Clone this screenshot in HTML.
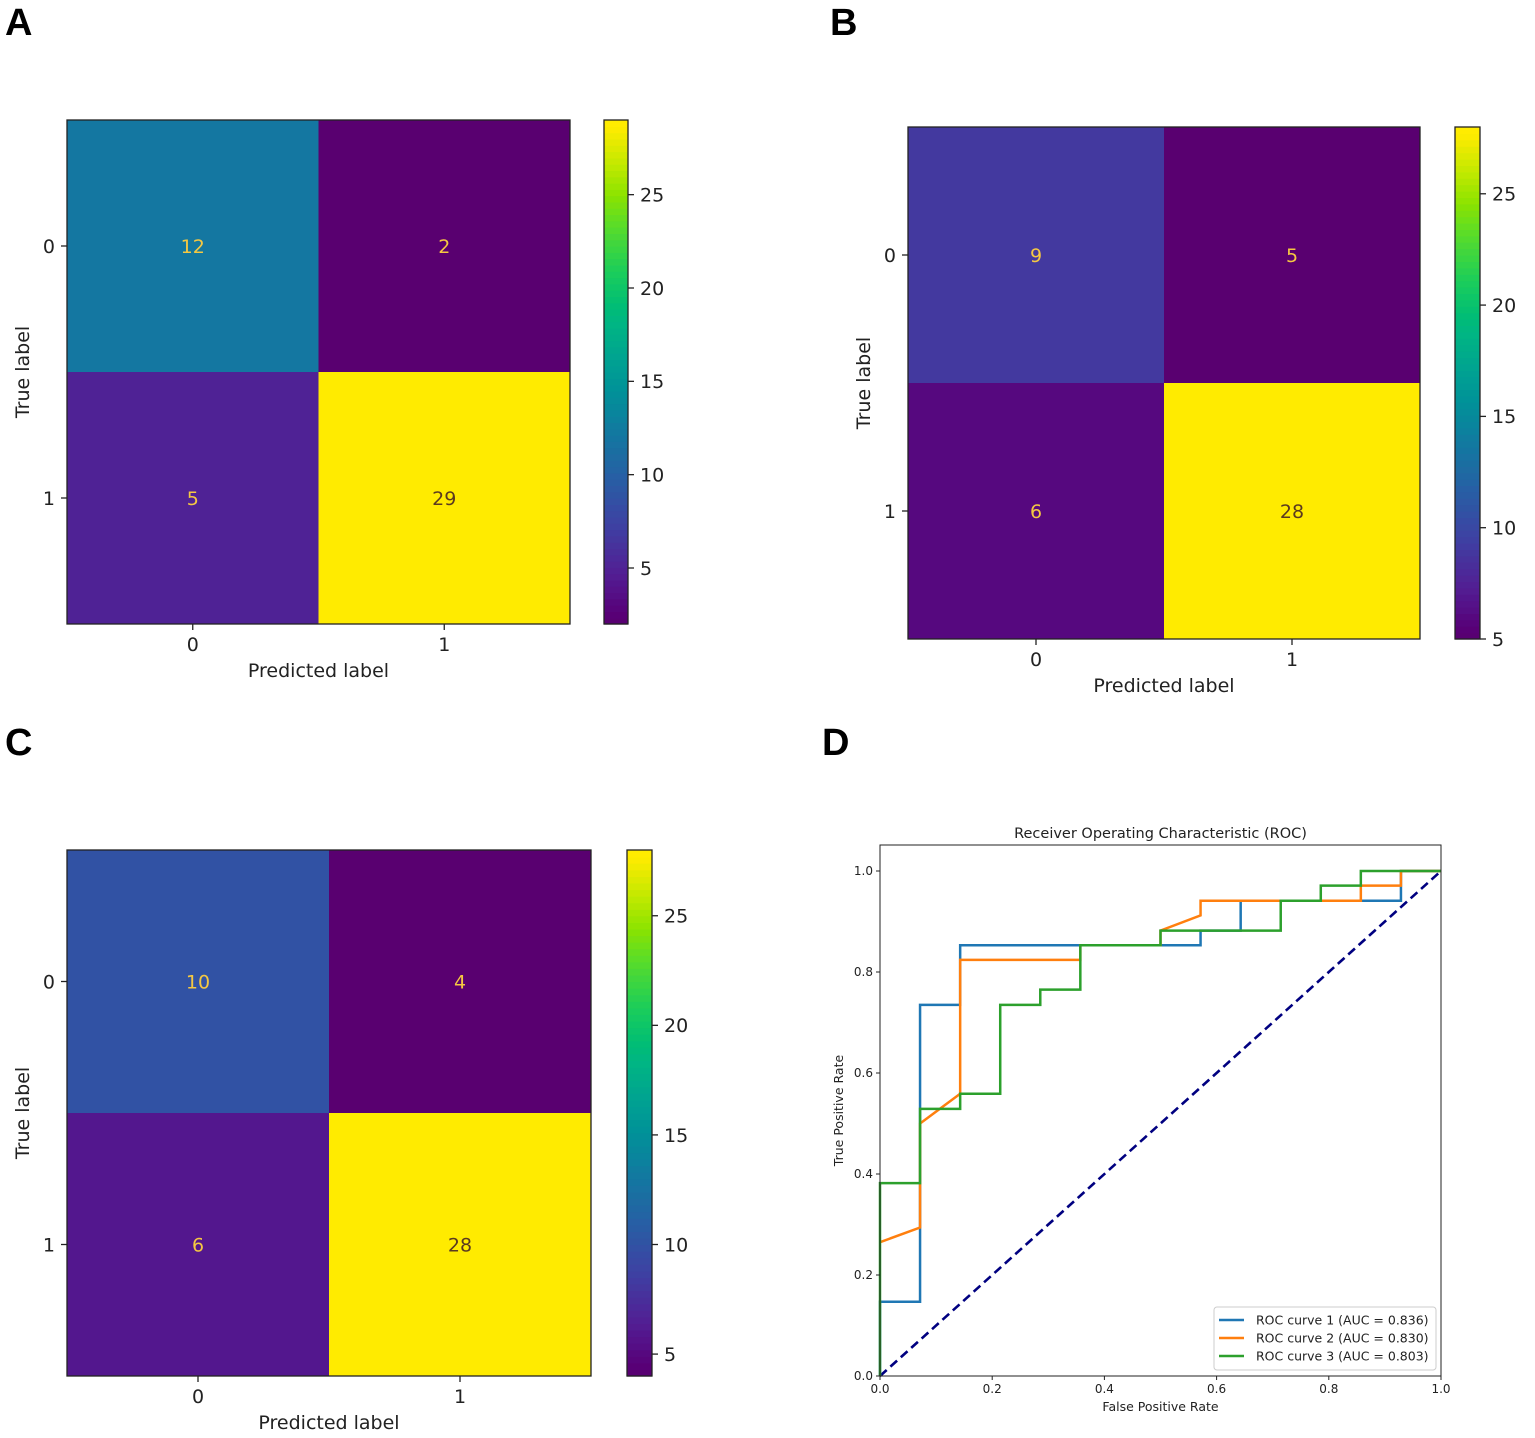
<!DOCTYPE html>
<html><head><meta charset="utf-8">
<style>
html,body{margin:0;padding:0;background:#fff;}
svg{display:block;font-family:"DejaVu Sans","Liberation Sans",sans-serif;}
.sat{filter:saturate(1.45);}
</style></head>
<body>
<svg id="fig" width="1535" height="1438" viewBox="0 0 1535 1438" xmlns="http://www.w3.org/2000/svg">
<text x="5" y="35" font-family="Liberation Sans, sans-serif" font-weight="bold" font-size="38">A</text>
<text x="830" y="35" font-family="Liberation Sans, sans-serif" font-weight="bold" font-size="38">B</text>
<text x="5" y="755" font-family="Liberation Sans, sans-serif" font-weight="bold" font-size="38">C</text>
<text x="822" y="755" font-family="Liberation Sans, sans-serif" font-weight="bold" font-size="38">D</text>
<g id="gA"></g>
<g id="gB"></g>
<g id="gC"></g>
<g id="gD"></g>
</svg>
<script>
// Confusion matrix data
const cmA = [[12, 2], [5, 29]];
const cmB = [[9, 5], [6, 28]];
const cmC = [[10, 4], [6, 28]];
const cmClasses = ["0", "1"];
const cbTicksA = [5, 10, 15, 20, 25];
const cbTicksB = [5, 10, 15, 20, 25];
const cbTicksC = [5, 10, 15, 20, 25];

// ROC data
const roc1X = [0, 0, 0.0714, 0.0714, 0.1429, 0.1429, 0.5714, 0.5714, 0.6429, 0.6429, 0.9286, 0.9286, 1];
const roc1Y = [0, 0.147, 0.147, 0.735, 0.735, 0.853, 0.853, 0.882, 0.882, 0.941, 0.941, 1, 1];
const roc2X = [0, 0.0714, 0.0714, 0.1429, 0.1429, 0.3571, 0.3571, 0.5, 0.5, 0.5714, 0.5714, 0.8571, 0.8571, 0.9286, 0.9286, 1];
const roc2Y = [0.265, 0.294, 0.5, 0.559, 0.824, 0.824, 0.853, 0.853, 0.882, 0.912, 0.941, 0.941, 0.971, 0.971, 1, 1];
const roc3X = [0, 0, 0.0714, 0.0714, 0.1429, 0.1429, 0.2143, 0.2143, 0.2857, 0.2857, 0.3571, 0.3571, 0.5, 0.5, 0.7143, 0.7143, 0.7857, 0.7857, 0.8571, 0.8571, 1];
const roc3Y = [0, 0.382, 0.382, 0.529, 0.529, 0.559, 0.559, 0.735, 0.735, 0.765, 0.765, 0.853, 0.853, 0.882, 0.882, 0.941, 0.941, 0.971, 0.971, 1, 1];
const rocLabels = ["ROC curve 1 (AUC = 0.836)", "ROC curve 2 (AUC = 0.830)", "ROC curve 3 (AUC = 0.803)"];
const rocColors = ["#1f77b4", "#ff7f0e", "#2ca02c"];
const rocTicks = [0, 0.2, 0.4, 0.6, 0.8, 1.0];

const NS = "http://www.w3.org/2000/svg";
function mk(parent, tag, attrs, text) {
  const e = document.createElementNS(NS, tag);
  for (const k in attrs) e.setAttribute(k, attrs[k]);
  if (text !== undefined) e.textContent = text;
  parent.appendChild(e);
  return e;
}
const VIR = [[68,1,84],[72,36,117],[65,68,135],[53,95,141],[42,120,142],[33,145,140],[34,168,132],[68,191,112],[122,209,81],[189,223,38],[253,231,37]];
function viridis(t) {
  t = Math.max(0, Math.min(1, t));
  const p = t * (VIR.length - 1), i = Math.min(VIR.length - 2, Math.floor(p)), f = p - i;
  const c = VIR[i].map((v, k) => Math.round(v + (VIR[i + 1][k] - v) * f));
  return "rgb(" + c.join(",") + ")";
}

function drawCM(g, cm, ticks, box, cb, fs) {
  const vals = cm.flat();
  const vmin = Math.min(...vals), vmax = Math.max(...vals);
  const n = cm.length;
  const cw = (box.x1 - box.x0) / n, ch = (box.y1 - box.y0) / n;
  const cells = mk(g, "g", {class: "sat"});
  for (let r = 0; r < n; r++) for (let c = 0; c < n; c++) {
    const v = cm[r][c];
    const t = (v - vmin) / (vmax - vmin);
    const cell = mk(cells, "rect", {x: box.x0 + c * cw, y: box.y0 + r * ch, width: cw + 0.5, height: ch + 0.5, fill: viridis(t)});
    
    
  }
  for (let r = 0; r < n; r++) for (let c = 0; c < n; c++) {
    const v = cm[r][c];
    const t = (v - vmin) / (vmax - vmin);
    const tx = mk(g, "text", {x: box.x0 + (c + 0.5) * cw, y: box.y0 + (r + 0.5) * ch + fs * 0.36, "text-anchor": "middle", "font-size": fs, fill: t > 0.5 ? "#5a3a20" : "#f5c842"}, String(v));
    
    
  }
  const fr = mk(g, "rect", {x: box.x0, y: box.y0, width: box.x1 - box.x0, height: box.y1 - box.y0, fill: "none", stroke: "#222", "stroke-width": 1.3});
  
  
  for (let i = 0; i < n; i++) {
    const xc = box.x0 + (i + 0.5) * cw, yc = box.y0 + (i + 0.5) * ch;
    mk(g, "line", {x1: xc, x2: xc, y1: box.y1, y2: box.y1 + 6, stroke: "#222", "stroke-width": 1.3});
    const xl = mk(g, "text", {x: xc, y: box.y1 + 27, "text-anchor": "middle", "font-size": fs, fill: "#222"}, cmClasses[i]);
    
    
    mk(g, "line", {x1: box.x0 - 6, x2: box.x0, y1: yc, y2: yc, stroke: "#222", "stroke-width": 1.3});
    const yl = mk(g, "text", {x: box.x0 - 12, y: yc + fs * 0.36, "text-anchor": "end", "font-size": fs, fill: "#222"}, cmClasses[i]);
    
    
  }
  const xt = mk(g, "text", {x: (box.x0 + box.x1) / 2, y: box.y1 + 53, "text-anchor": "middle", "font-size": fs, fill: "#222"}, "Predicted label");
  
  
  const ymid = (box.y0 + box.y1) / 2;
  const yt = mk(g, "text", {x: box.x0 - 38, y: ymid, "text-anchor": "middle", "font-size": fs, fill: "#222", transform: "rotate(-90 " + (box.x0 - 38) + " " + ymid + ")"}, "True label");
  
  
  // colorbar
  const cbg = mk(g, "g", {class: "sat"});
  const steps = 80, hh = (cb.y1 - cb.y0) / steps;
  for (let i = 0; i < steps; i++) {
    mk(cbg, "rect", {x: cb.x0, y: cb.y1 - (i + 1) * hh, width: cb.x1 - cb.x0, height: hh + 0.6, fill: viridis((i + 0.5) / steps)});
  }
  const cf = mk(g, "rect", {x: cb.x0, y: cb.y0, width: cb.x1 - cb.x0, height: cb.y1 - cb.y0, fill: "none", stroke: "#222", "stroke-width": 1.3});
  
  
  ticks.forEach(tv => {
    const y = cb.y1 - (tv - vmin) / (vmax - vmin) * (cb.y1 - cb.y0);
    mk(g, "line", {x1: cb.x1, x2: cb.x1 + 6, y1: y, y2: y, stroke: "#222", "stroke-width": 1.3});
    const l = mk(g, "text", {x: cb.x1 + 12, y: y + fs * 0.36, "font-size": fs, fill: "#222"}, String(tv));
    
    
  });
}

drawCM(document.getElementById("gA"), cmA, cbTicksA, {x0: 67, x1: 570, y0: 120, y1: 624}, {x0: 604, x1: 628, y0: 120, y1: 624}, 19);
drawCM(document.getElementById("gB"), cmB, cbTicksB, {x0: 908, x1: 1420, y0: 127, y1: 639}, {x0: 1455, x1: 1480, y0: 127, y1: 639}, 19);
drawCM(document.getElementById("gC"), cmC, cbTicksC, {x0: 67, x1: 591, y0: 850, y1: 1376}, {x0: 627, x1: 652, y0: 850, y1: 1376}, 19);

// ROC
(function () {
  const g = document.getElementById("gD");
  const X0 = 880, X1 = 1441, Y0 = 1376, Y1 = 871, top = 845;
  const sx = v => X0 + v * (X1 - X0);
  const sy = v => Y0 - v * (Y0 - Y1);
  const title = mk(g, "text", {x: (X0 + X1) / 2, y: top - 7, "text-anchor": "middle", "font-size": 14.5, fill: "#222"}, "Receiver Operating Characteristic (ROC)");
  
  
  const diag = mk(g, "line", {x1: sx(0), y1: sy(0), x2: sx(1), y2: sy(1), stroke: "#000080", "stroke-width": 2.6, "stroke-dasharray": "9,5"});
  
  
  const series = [[roc1X, roc1Y], [roc2X, roc2Y], [roc3X, roc3Y]];
  series.forEach((s, k) => {
    const pts = s[0].map((x, i) => sx(x) + "," + sy(s[1][i])).join(" ");
    const pl = mk(g, "polyline", {points: pts, fill: "none", stroke: rocColors[k], "stroke-width": 2.5});
    
    
  });
  const fr = mk(g, "rect", {x: X0, y: top, width: X1 - X0, height: Y0 - top, fill: "none", stroke: "#222", "stroke-width": 1});
  
  
  rocTicks.forEach(t => {
    mk(g, "line", {x1: sx(t), x2: sx(t), y1: Y0, y2: Y0 + 4, stroke: "#222"});
    const xl = mk(g, "text", {x: sx(t), y: Y0 + 17, "text-anchor": "middle", "font-size": 12, fill: "#222"}, t.toFixed(1));
    
    
    mk(g, "line", {x1: X0 - 4, x2: X0, y1: sy(t), y2: sy(t), stroke: "#222"});
    const yl = mk(g, "text", {x: X0 - 7, y: sy(t) + 4, "text-anchor": "end", "font-size": 12, fill: "#222"}, t.toFixed(1));
    
    
  });
  const xt = mk(g, "text", {x: (X0 + X1) / 2, y: Y0 + 35, "text-anchor": "middle", "font-size": 12.5, fill: "#222"}, "False Positive Rate");
  
  
  const ym = (top + Y0) / 2;
  const yt = mk(g, "text", {x: X0 - 37, y: ym, "text-anchor": "middle", "font-size": 12.5, fill: "#222", transform: "rotate(-90 " + (X0 - 37) + " " + ym + ")"}, "True Positive Rate");
  
  
  const lg = mk(g, "rect", {x: 1214, y: 1307, width: 222, height: 63, fill: "#fff", stroke: "#ccc", rx: 3});
  
  
  rocLabels.forEach((lab, k) => {
    const y = 1320 + k * 18;
    mk(g, "line", {x1: 1219, x2: 1244, y1: y, y2: y, stroke: rocColors[k], "stroke-width": 2.5});
    const t = mk(g, "text", {x: 1256, y: y + 4.5, "font-size": 12.5, fill: "#222"}, lab);
    
    
  });
})();
</script>
</body></html>
